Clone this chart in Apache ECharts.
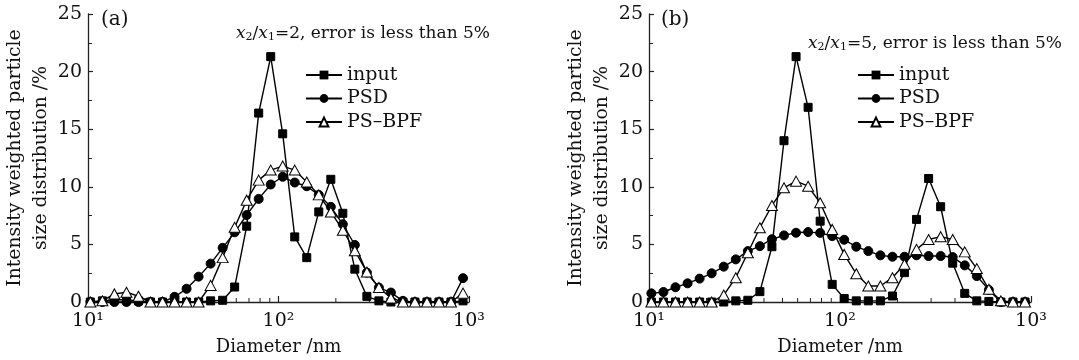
<!DOCTYPE html>
<html>
<head>
<meta charset="utf-8">
<script src="https://cdn.jsdelivr.net/npm/echarts/dist/echarts.min.js"></script>
<style>
html,body{margin:0;padding:0;background:#fff;}
#chart{width:1079px;height:360px;}
</style>
</head>
<body>
<div id="chart"></div>
<script>
// Particle diameters (nm), shared by both panels
const diameters = [10.29, 11.90, 13.76, 15.92, 18.41, 21.29, 24.62, 28.47, 32.92, 38.07,
  44.02, 50.91, 58.87, 68.08, 78.71, 91.02, 105.2, 121.7, 140.7, 162.7,
  188.2, 217.6, 251.6, 291.0, 336.5, 389.1, 449.9, 520.3, 601.6, 695.8, 804.5, 930.5];

// Panel (a): x2/x1 = 2
const inputA = [0, 0.1, 0.2, 0.2, 0.1, 0, 0, 0, 0, 0,
  0.1, 0.15, 1.3, 6.58, 16.4, 21.3, 14.6, 5.65, 3.85, 7.82,
  10.65, 7.7, 2.85, 0.49, 0.1, 0, 0, 0, 0, 0, 0, 0.1];
const psdA = [0, 0, 0, 0, 0, 0, 0, 0.45, 1.15, 2.2,
  3.33, 4.7, 6.05, 7.55, 8.95, 10.2, 10.87, 10.37, 10.05, 9.3,
  8.26, 6.75, 4.95, 2.55, 1.25, 0.82, 0.1, 0, 0, 0, 0, 2.07];
const bpfA = [0, 0.1, 0.7, 0.85, 0.5, 0, 0, 0, 0, 0,
  1.44, 3.85, 6.48, 8.84, 10.58, 11.45, 11.8, 11.45, 10.42, 9.3,
  7.82, 6.23, 4.45, 2.6, 1.26, 0.35, 0, 0, 0, 0, 0, 0.77];

// Panel (b): x2/x1 = 5
const inputB = [0, 0, 0, 0, 0, 0, 0, 0.1, 0.15, 0.9,
  4.8, 14.0, 21.3, 16.9, 7.02, 1.53, 0.3, 0.1, 0.1, 0.1,
  0.52, 2.55, 7.17, 10.72, 8.27, 3.37, 0.75, 0.1, 0.05, 0, 0, 0];
const psdB = [0.75, 0.87, 1.28, 1.62, 2.03, 2.49, 3.07, 3.7, 4.42, 4.85,
  5.45, 5.78, 6.01, 6.07, 6.0, 5.72, 5.4, 4.8, 4.42, 4.05,
  3.93, 3.93, 4.05, 3.99, 3.99, 3.9, 3.18, 2.25, 1.05, 0, 0, 0];
const bpfB = [0, 0, 0, 0, 0, 0, 0.6, 2.11, 4.28, 6.45,
  8.38, 9.91, 10.49, 10.05, 8.61, 6.3, 4.13, 2.45, 1.39, 1.39,
  2.11, 3.27, 4.57, 5.43, 5.67, 5.43, 4.35, 2.9, 1.1, 0.1, 0, 0];

const seriesNames = ['input', 'PSD', 'PS\u2013BPF'];
const minorTicksX = [20, 30, 40, 50, 60, 70, 80, 90, 200, 300, 400, 500, 600, 700, 800, 900];
const supMap = {1: '10\u00B9', 2: '10\u00B2', 3: '10\u00B3'};
const yName = 'Intensity weighted particle\nsize distribution /%';
const xName = 'Diameter /nm';
const noteA = '{i|x}{s|2}{n|/}{i|x}{s|1}{n|=2, error is less than 5%}';
const noteB = '{i|x}{s|2}{n|/}{i|x}{s|1}{n|=5, error is less than 5%}';

const FONT = 'DejaVu Serif';
const INK = '#111';

function pairs(vals) { return diameters.map((d, i) => [d, vals[i]]); }

function xAx(gi) {
  return {
    type: 'log', logBase: 10, gridIndex: gi, min: 10, max: 1000, position: 'bottom',
    name: xName, nameLocation: 'middle', nameGap: 36,
    nameTextStyle: {fontFamily: FONT, fontSize: 18, color: INK},
    axisLine: {show: true, lineStyle: {color: '#222', width: 1.3}},
    axisTick: {show: true, inside: true, length: 6, lineStyle: {color: '#222', width: 1.2}},
    minorTick: {show: false},
    axisLabel: {show: true, margin: 10, fontFamily: FONT, fontSize: 19, color: INK,
      formatter: v => supMap[Math.round(Math.log10(v))] || ''},
    splitLine: {show: false}
  };
}
function yAx(gi) {
  return {
    type: 'value', gridIndex: gi, min: 0, max: 25, interval: 5,
    name: yName, nameLocation: 'middle', nameGap: 34, nameRotate: 90,
    nameTextStyle: {fontFamily: FONT, fontSize: 18.8, color: INK, lineHeight: 26},
    axisLine: {show: true, lineStyle: {color: '#222', width: 1.3}},
    axisTick: {show: true, inside: true, length: 5, lineStyle: {color: '#222', width: 1.2}},
    minorTick: {show: true, splitNumber: 2, length: 4, lineStyle: {color: '#222', width: 1}},
    axisLabel: {margin: 6, fontFamily: FONT, fontSize: 19, color: INK},
    splitLine: {show: false}
  };
}
function line(name, vals, gi, kind) {
  const s = {
    name: name, type: 'line', xAxisIndex: gi, yAxisIndex: gi, data: pairs(vals),
    lineStyle: {color: '#000', width: 1.4}, itemStyle: {color: '#000', borderColor: '#000'},
    animation: false, clip: false, z: 2
  };
  if (kind === 'sq') { s.symbol = 'rect'; s.symbolSize = 8; }
  if (kind === 'ci') { s.symbol = 'circle'; s.symbolSize = 9; }
  if (kind === 'tr') {
    s.symbol = 'triangle'; s.symbolSize = [11, 10];
    s.itemStyle = {color: '#fff', borderColor: '#000', borderWidth: 1};
    s.z = 3;
  }
  return s;
}
// Minor log ticks (2..9 per decade), placed through the axis scale
function minorTicks(gi) {
  return {
    type: 'custom', name: 'minor-ticks', xAxisIndex: gi, yAxisIndex: gi, silent: true, clip: false, z: 1,
    data: minorTicksX.map(v => [v, 0]),
    encode: {x: 0, y: 1},
    renderItem: (params, api) => {
      const p = api.coord([api.value(0), 0]);
      return {type: 'line', shape: {x1: p[0], y1: p[1], x2: p[0], y2: p[1] - 4},
        style: {stroke: '#222', lineWidth: 1}};
    }
  };
}
function legend(left) {
  return {
    left: left, top: 65, orient: 'vertical', itemWidth: 36, itemHeight: 11, itemGap: 3.5, padding: 0,
    selectedMode: false, data: seriesNames,
    textStyle: {fontFamily: FONT, fontSize: 19, color: INK, lineHeight: 20}
  };
}
const richNote = {
  i: {fontFamily: FONT, fontSize: 17, fontStyle: 'italic', fill: INK, color: INK},
  n: {fontFamily: FONT, fontSize: 17, fill: INK, color: INK},
  s: {fontFamily: FONT, fontSize: 11, fill: INK, color: INK, verticalAlign: 'bottom', lineHeight: 13}
};
const labelStyle = {font: '20px "DejaVu Serif"', fill: INK, textAlign: 'left', textVerticalAlign: 'middle', align: 'left', verticalAlign: 'middle'};

const chart = echarts.init(document.getElementById('chart'), null, {renderer: 'canvas'});
chart.setOption({
  backgroundColor: '#fff',
  animation: false,
  grid: [
    {left: 88, top: 14, width: 381, height: 288, containLabel: false, outerBoundsMode: 'none'},
    {left: 649, top: 14, width: 382, height: 288, containLabel: false, outerBoundsMode: 'none'}
  ],
  xAxis: [xAx(0), xAx(1)],
  yAxis: [yAx(0), yAx(1)],
  legend: [legend(305), legend(857)],
  series: [
    minorTicks(0),
    line(seriesNames[0], inputA, 0, 'sq'),
    line(seriesNames[1], psdA, 0, 'ci'),
    line(seriesNames[2], bpfA, 0, 'tr'),
    minorTicks(1),
    line(seriesNames[0], inputB, 1, 'sq'),
    line(seriesNames[1], psdB, 1, 'ci'),
    line(seriesNames[2], bpfB, 1, 'tr')
  ],
  graphic: [
    {type: 'text', x: 101, y: 20, style: Object.assign({text: '(a)'}, labelStyle)},
    {type: 'text', x: 661, y: 20, style: Object.assign({text: '(b)'}, labelStyle)},
    {type: 'text', x: 236, y: 34, style: Object.assign({text: noteA, rich: richNote}, labelStyle, {font: '17px "DejaVu Serif"'})},
    {type: 'text', x: 808, y: 44, style: Object.assign({text: noteB, rich: richNote}, labelStyle, {font: '17px "DejaVu Serif"'})}
  ]
});
</script>
</body>
</html>
